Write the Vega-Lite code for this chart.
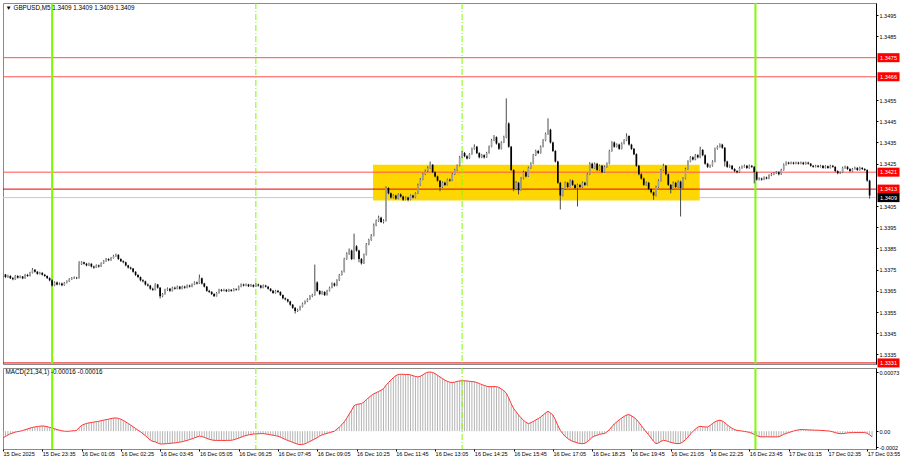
{
"$schema":"https://vega.github.io/schema/vega-lite/v6.json",
"background":"white",
"padding":{"left":2,"top":1,"right":0,"bottom":0},
"spacing":4,
"bounds":"flush",
"config":{"view":{"stroke":"#8a8a8a","strokeWidth":1},"font":"Liberation Sans","axis":{"labelFont":"Liberation Sans","labelFontSize":5.5,"labelColor":"#000000","tickColor":"#000000","domainColor":"#000000","grid":false,"labelOverlap":false}},
"datasets":{
"k":[
{"i":0,"o":1.3372,"h":1.33732,"l":1.33716,"c":1.33727,"m":-0.000084},
{"i":1,"o":1.33727,"h":1.3373,"l":1.3371,"c":1.33715,"m":-0.000065},
{"i":2,"o":1.33715,"h":1.33726,"l":1.33711,"c":1.3372,"m":-0.000048},
{"i":3,"o":1.3372,"h":1.33724,"l":1.33706,"c":1.3371,"m":-0.000032},
{"i":4,"o":1.3371,"h":1.33715,"l":1.337,"c":1.33705,"m":-0.000022},
{"i":5,"o":1.33705,"h":1.33725,"l":1.33702,"c":1.3372,"m":-0.000012},
{"i":6,"o":1.3372,"h":1.33724,"l":1.33708,"c":1.33712,"m":-0.000005},
{"i":7,"o":1.33712,"h":1.33723,"l":1.33709,"c":1.33718,"m":0},
{"i":8,"o":1.33718,"h":1.3372,"l":1.33705,"c":1.33709,"m":0.000008},
{"i":9,"o":1.33709,"h":1.3373,"l":1.33707,"c":1.33725,"m":0.000018},
{"i":10,"o":1.33725,"h":1.3373,"l":1.33716,"c":1.3372,"m":0.000028},
{"i":11,"o":1.3372,"h":1.3374,"l":1.33718,"c":1.33735,"m":0.000038},
{"i":12,"o":1.33735,"h":1.33758,"l":1.33732,"c":1.3375,"m":0.000046},
{"i":13,"o":1.3375,"h":1.33753,"l":1.33736,"c":1.3374,"m":0.000052},
{"i":14,"o":1.3374,"h":1.33744,"l":1.33726,"c":1.3373,"m":0.000058},
{"i":15,"o":1.3373,"h":1.3374,"l":1.33727,"c":1.33735,"m":0.000062},
{"i":16,"o":1.33735,"h":1.33738,"l":1.33722,"c":1.33726,"m":0.000064},
{"i":17,"o":1.33726,"h":1.3373,"l":1.33716,"c":1.3372,"m":0.000062},
{"i":18,"o":1.3372,"h":1.33723,"l":1.33706,"c":1.3371,"m":0.000056},
{"i":19,"o":1.3371,"h":1.33714,"l":1.33695,"c":1.337,"m":0.000046},
{"i":20,"o":1.337,"h":1.33705,"l":1.3367,"c":1.33675,"m":0.00004},
{"i":21,"o":1.33675,"h":1.33695,"l":1.33672,"c":1.3369,"m":0.00003},
{"i":22,"o":1.3369,"h":1.33694,"l":1.33676,"c":1.3368,"m":0.00002},
{"i":23,"o":1.3368,"h":1.3369,"l":1.33677,"c":1.33685,"m":0.000012},
{"i":24,"o":1.33685,"h":1.33689,"l":1.33672,"c":1.33676,"m":0.000004},
{"i":25,"o":1.33676,"h":1.33692,"l":1.33674,"c":1.33688,"m":0},
{"i":26,"o":1.33688,"h":1.337,"l":1.33685,"c":1.33695,"m":-0.000002},
{"i":27,"o":1.33695,"h":1.3371,"l":1.33692,"c":1.33705,"m":0},
{"i":28,"o":1.33705,"h":1.33715,"l":1.33702,"c":1.3371,"m":0.000003},
{"i":29,"o":1.3371,"h":1.33718,"l":1.33706,"c":1.33712,"m":0.000006},
{"i":30,"o":1.33712,"h":1.33716,"l":1.33705,"c":1.3371,"m":0.00001},
{"i":31,"o":1.3371,"h":1.3379,"l":1.33708,"c":1.33775,"m":0.000045},
{"i":32,"o":1.33775,"h":1.3379,"l":1.33772,"c":1.33785,"m":0.00007},
{"i":33,"o":1.33785,"h":1.33788,"l":1.33774,"c":1.33778,"m":0.000085},
{"i":34,"o":1.33778,"h":1.33782,"l":1.33766,"c":1.3377,"m":0.000095},
{"i":35,"o":1.3377,"h":1.33783,"l":1.33767,"c":1.33778,"m":0.000102},
{"i":36,"o":1.33778,"h":1.3378,"l":1.3376,"c":1.33765,"m":0.000108},
{"i":37,"o":1.33765,"h":1.33769,"l":1.33754,"c":1.3376,"m":0.000112},
{"i":38,"o":1.3376,"h":1.33775,"l":1.33758,"c":1.3377,"m":0.000118},
{"i":39,"o":1.3377,"h":1.33774,"l":1.3376,"c":1.33765,"m":0.000122},
{"i":40,"o":1.33765,"h":1.33785,"l":1.33763,"c":1.3378,"m":0.00013},
{"i":41,"o":1.3378,"h":1.33795,"l":1.33777,"c":1.3379,"m":0.000136},
{"i":42,"o":1.3379,"h":1.33805,"l":1.33787,"c":1.338,"m":0.000143},
{"i":43,"o":1.338,"h":1.33804,"l":1.3379,"c":1.33795,"m":0.000148},
{"i":44,"o":1.33795,"h":1.3381,"l":1.33792,"c":1.33805,"m":0.000156},
{"i":45,"o":1.33805,"h":1.3382,"l":1.33802,"c":1.33815,"m":0.000162},
{"i":46,"o":1.33815,"h":1.33826,"l":1.3381,"c":1.3382,"m":0.000163},
{"i":47,"o":1.3382,"h":1.33823,"l":1.33796,"c":1.338,"m":0.000158},
{"i":48,"o":1.338,"h":1.33804,"l":1.33786,"c":1.3379,"m":0.000148},
{"i":49,"o":1.3379,"h":1.33794,"l":1.3378,"c":1.33785,"m":0.000133},
{"i":50,"o":1.33785,"h":1.33788,"l":1.33766,"c":1.3377,"m":0.000115},
{"i":51,"o":1.3377,"h":1.33773,"l":1.33755,"c":1.3376,"m":0.000095},
{"i":52,"o":1.3376,"h":1.33764,"l":1.3375,"c":1.33755,"m":0.000075},
{"i":53,"o":1.33755,"h":1.33758,"l":1.33736,"c":1.3374,"m":0.000054},
{"i":54,"o":1.3374,"h":1.33743,"l":1.3372,"c":1.33725,"m":0.000034},
{"i":55,"o":1.33725,"h":1.33729,"l":1.3371,"c":1.33715,"m":0.000012},
{"i":56,"o":1.33715,"h":1.33718,"l":1.33695,"c":1.337,"m":-0.000008},
{"i":57,"o":1.337,"h":1.33705,"l":1.3369,"c":1.33695,"m":-0.000032},
{"i":58,"o":1.33695,"h":1.33698,"l":1.33675,"c":1.3368,"m":-0.000056},
{"i":59,"o":1.3368,"h":1.33685,"l":1.3367,"c":1.33675,"m":-0.000082},
{"i":60,"o":1.33675,"h":1.33678,"l":1.33655,"c":1.3366,"m":-0.00011},
{"i":61,"o":1.3366,"h":1.33665,"l":1.3365,"c":1.33655,"m":-0.000126},
{"i":62,"o":1.33655,"h":1.33686,"l":1.33652,"c":1.3368,"m":-0.000132},
{"i":63,"o":1.3368,"h":1.33683,"l":1.3366,"c":1.33665,"m":-0.000145},
{"i":64,"o":1.33665,"h":1.33668,"l":1.33614,"c":1.33625,"m":-0.000158},
{"i":65,"o":1.33625,"h":1.3364,"l":1.3362,"c":1.33635,"m":-0.000158},
{"i":66,"o":1.33635,"h":1.3366,"l":1.33632,"c":1.33655,"m":-0.000156},
{"i":67,"o":1.33655,"h":1.33666,"l":1.3365,"c":1.3366,"m":-0.000153},
{"i":68,"o":1.3366,"h":1.33664,"l":1.33645,"c":1.3365,"m":-0.00015},
{"i":69,"o":1.3365,"h":1.3367,"l":1.33647,"c":1.33665,"m":-0.000147},
{"i":70,"o":1.33665,"h":1.3367,"l":1.33656,"c":1.3366,"m":-0.000145},
{"i":71,"o":1.3366,"h":1.33675,"l":1.33657,"c":1.3367,"m":-0.00014},
{"i":72,"o":1.3367,"h":1.33673,"l":1.33656,"c":1.3366,"m":-0.000135},
{"i":73,"o":1.3366,"h":1.33675,"l":1.33657,"c":1.3367,"m":-0.00013},
{"i":74,"o":1.3367,"h":1.33674,"l":1.3366,"c":1.33665,"m":-0.000122},
{"i":75,"o":1.33665,"h":1.3368,"l":1.33662,"c":1.33675,"m":-0.000114},
{"i":76,"o":1.33675,"h":1.33679,"l":1.33666,"c":1.3367,"m":-0.000104},
{"i":77,"o":1.3367,"h":1.33685,"l":1.33667,"c":1.3368,"m":-0.000094},
{"i":78,"o":1.3368,"h":1.33695,"l":1.33677,"c":1.3369,"m":-0.000082},
{"i":79,"o":1.3369,"h":1.33694,"l":1.3368,"c":1.33685,"m":-0.000072},
{"i":80,"o":1.33685,"h":1.33727,"l":1.33682,"c":1.3371,"m":-0.00006},
{"i":81,"o":1.3371,"h":1.33713,"l":1.3368,"c":1.33685,"m":-0.000066},
{"i":82,"o":1.33685,"h":1.33688,"l":1.33666,"c":1.3367,"m":-0.000076},
{"i":83,"o":1.3367,"h":1.33673,"l":1.33646,"c":1.3365,"m":-0.000088},
{"i":84,"o":1.3365,"h":1.33655,"l":1.3364,"c":1.33645,"m":-0.0001},
{"i":85,"o":1.33645,"h":1.33649,"l":1.3363,"c":1.33635,"m":-0.000108},
{"i":86,"o":1.33635,"h":1.33639,"l":1.33622,"c":1.33625,"m":-0.000113},
{"i":87,"o":1.33625,"h":1.33645,"l":1.33623,"c":1.3364,"m":-0.000114},
{"i":88,"o":1.3364,"h":1.3366,"l":1.33637,"c":1.33655,"m":-0.000114},
{"i":89,"o":1.33655,"h":1.33659,"l":1.33646,"c":1.3365,"m":-0.000114},
{"i":90,"o":1.3365,"h":1.3366,"l":1.33647,"c":1.33655,"m":-0.000115},
{"i":91,"o":1.33655,"h":1.33658,"l":1.33644,"c":1.33648,"m":-0.000114},
{"i":92,"o":1.33648,"h":1.3366,"l":1.33645,"c":1.33655,"m":-0.000113},
{"i":93,"o":1.33655,"h":1.33658,"l":1.33646,"c":1.3365,"m":-0.000113},
{"i":94,"o":1.3365,"h":1.33663,"l":1.33647,"c":1.33658,"m":-0.000106},
{"i":95,"o":1.33658,"h":1.33662,"l":1.33651,"c":1.33655,"m":-0.000096},
{"i":96,"o":1.33655,"h":1.33675,"l":1.33652,"c":1.3367,"m":-0.000086},
{"i":97,"o":1.3367,"h":1.33685,"l":1.33667,"c":1.3368,"m":-0.000074},
{"i":98,"o":1.3368,"h":1.33684,"l":1.33671,"c":1.33675,"m":-0.000062},
{"i":99,"o":1.33675,"h":1.33685,"l":1.33672,"c":1.3368,"m":-0.000054},
{"i":100,"o":1.3368,"h":1.33683,"l":1.33668,"c":1.33672,"m":-0.000046},
{"i":101,"o":1.33672,"h":1.33683,"l":1.33669,"c":1.33678,"m":-0.00004},
{"i":102,"o":1.33678,"h":1.33681,"l":1.33666,"c":1.3367,"m":-0.000036},
{"i":103,"o":1.3367,"h":1.33686,"l":1.33668,"c":1.3368,"m":-0.000034},
{"i":104,"o":1.3368,"h":1.33684,"l":1.3367,"c":1.33675,"m":-0.000032},
{"i":105,"o":1.33675,"h":1.33678,"l":1.33661,"c":1.33665,"m":-0.00003},
{"i":106,"o":1.33665,"h":1.3368,"l":1.33662,"c":1.33675,"m":-0.00003},
{"i":107,"o":1.33675,"h":1.33679,"l":1.33666,"c":1.3367,"m":-0.000034},
{"i":108,"o":1.3367,"h":1.33673,"l":1.33656,"c":1.3366,"m":-0.000039},
{"i":109,"o":1.3366,"h":1.33663,"l":1.33646,"c":1.3365,"m":-0.000045},
{"i":110,"o":1.3365,"h":1.33654,"l":1.33636,"c":1.3364,"m":-0.00005},
{"i":111,"o":1.3364,"h":1.33655,"l":1.33637,"c":1.3365,"m":-0.000056},
{"i":112,"o":1.3365,"h":1.33654,"l":1.3364,"c":1.33645,"m":-0.000062},
{"i":113,"o":1.33645,"h":1.33648,"l":1.33626,"c":1.3363,"m":-0.000074},
{"i":114,"o":1.3363,"h":1.33633,"l":1.3361,"c":1.33615,"m":-0.000088},
{"i":115,"o":1.33615,"h":1.33619,"l":1.33605,"c":1.3361,"m":-0.000102},
{"i":116,"o":1.3361,"h":1.33613,"l":1.33595,"c":1.336,"m":-0.000115},
{"i":117,"o":1.336,"h":1.33603,"l":1.3358,"c":1.33585,"m":-0.000126},
{"i":118,"o":1.33585,"h":1.33588,"l":1.33565,"c":1.3357,"m":-0.000138},
{"i":119,"o":1.3357,"h":1.33573,"l":1.33543,"c":1.33555,"m":-0.00015},
{"i":120,"o":1.33555,"h":1.33566,"l":1.3355,"c":1.3356,"m":-0.00016},
{"i":121,"o":1.3356,"h":1.3358,"l":1.33557,"c":1.33575,"m":-0.000166},
{"i":122,"o":1.33575,"h":1.33595,"l":1.33572,"c":1.3359,"m":-0.000165},
{"i":123,"o":1.3359,"h":1.33605,"l":1.33586,"c":1.336,"m":-0.000156},
{"i":124,"o":1.336,"h":1.33615,"l":1.33597,"c":1.3361,"m":-0.000142},
{"i":125,"o":1.3361,"h":1.3363,"l":1.33607,"c":1.33625,"m":-0.000126},
{"i":126,"o":1.33625,"h":1.33636,"l":1.3362,"c":1.3363,"m":-0.000112},
{"i":127,"o":1.3363,"h":1.33774,"l":1.33627,"c":1.3369,"m":-0.000096},
{"i":128,"o":1.3369,"h":1.33695,"l":1.33646,"c":1.3365,"m":-0.00008},
{"i":129,"o":1.3365,"h":1.33654,"l":1.3363,"c":1.33635,"m":-0.00006},
{"i":130,"o":1.33635,"h":1.3365,"l":1.33632,"c":1.33645,"m":-0.000046},
{"i":131,"o":1.33645,"h":1.33648,"l":1.33626,"c":1.3363,"m":-0.000036},
{"i":132,"o":1.3363,"h":1.33655,"l":1.33628,"c":1.3365,"m":-0.000027},
{"i":133,"o":1.3365,"h":1.3367,"l":1.33647,"c":1.33665,"m":-0.000018},
{"i":134,"o":1.33665,"h":1.3369,"l":1.33662,"c":1.33685,"m":-0.000009},
{"i":135,"o":1.33685,"h":1.33689,"l":1.3367,"c":1.33675,"m":0},
{"i":136,"o":1.33675,"h":1.33705,"l":1.33672,"c":1.337,"m":0.000025},
{"i":137,"o":1.337,"h":1.3373,"l":1.33697,"c":1.33725,"m":0.00005},
{"i":138,"o":1.33725,"h":1.33746,"l":1.33722,"c":1.3374,"m":0.00008},
{"i":139,"o":1.3374,"h":1.33806,"l":1.33737,"c":1.338,"m":0.000115},
{"i":140,"o":1.338,"h":1.33832,"l":1.33796,"c":1.33825,"m":0.00016},
{"i":141,"o":1.33825,"h":1.3385,"l":1.3382,"c":1.3384,"m":0.00021},
{"i":142,"o":1.3384,"h":1.33845,"l":1.33795,"c":1.338,"m":0.00026},
{"i":143,"o":1.338,"h":1.3392,"l":1.33798,"c":1.3386,"m":0.000315},
{"i":144,"o":1.3386,"h":1.33866,"l":1.33835,"c":1.3384,"m":0.00033},
{"i":145,"o":1.3384,"h":1.33844,"l":1.33785,"c":1.338,"m":0.000335},
{"i":146,"o":1.338,"h":1.33805,"l":1.33774,"c":1.3378,"m":0.00034},
{"i":147,"o":1.3378,"h":1.33826,"l":1.33777,"c":1.3382,"m":0.00036},
{"i":148,"o":1.3382,"h":1.33876,"l":1.33817,"c":1.3387,"m":0.00039},
{"i":149,"o":1.3387,"h":1.33896,"l":1.33865,"c":1.3389,"m":0.000415},
{"i":150,"o":1.3389,"h":1.33918,"l":1.33886,"c":1.3391,"m":0.00044},
{"i":151,"o":1.3391,"h":1.33968,"l":1.33907,"c":1.3396,"m":0.00046},
{"i":152,"o":1.3396,"h":1.33987,"l":1.33955,"c":1.3398,"m":0.000475},
{"i":153,"o":1.3398,"h":1.34005,"l":1.33975,"c":1.33995,"m":0.00049},
{"i":154,"o":1.33995,"h":1.34,"l":1.3397,"c":1.33975,"m":0.000505},
{"i":155,"o":1.33975,"h":1.33988,"l":1.33968,"c":1.3398,"m":0.000525},
{"i":156,"o":1.3398,"h":1.34143,"l":1.33977,"c":1.34135,"m":0.000565},
{"i":157,"o":1.34135,"h":1.34139,"l":1.34105,"c":1.3411,"m":0.0006},
{"i":158,"o":1.3411,"h":1.34114,"l":1.34085,"c":1.3409,"m":0.00063},
{"i":159,"o":1.3409,"h":1.34106,"l":1.34086,"c":1.341,"m":0.00066},
{"i":160,"o":1.341,"h":1.34104,"l":1.3408,"c":1.34085,"m":0.000685},
{"i":161,"o":1.34085,"h":1.3411,"l":1.34082,"c":1.34105,"m":0.0007},
{"i":162,"o":1.34105,"h":1.3411,"l":1.3409,"c":1.34095,"m":0.000703},
{"i":163,"o":1.34095,"h":1.34099,"l":1.34074,"c":1.3408,"m":0.000702},
{"i":164,"o":1.3408,"h":1.34096,"l":1.34077,"c":1.3409,"m":0.0007},
{"i":165,"o":1.3409,"h":1.34094,"l":1.34072,"c":1.3408,"m":0.0007},
{"i":166,"o":1.3408,"h":1.34105,"l":1.34077,"c":1.341,"m":0.000695},
{"i":167,"o":1.341,"h":1.34104,"l":1.34086,"c":1.3409,"m":0.000685},
{"i":168,"o":1.3409,"h":1.34115,"l":1.34087,"c":1.3411,"m":0.000675},
{"i":169,"o":1.3411,"h":1.34156,"l":1.34107,"c":1.3415,"m":0.00067},
{"i":170,"o":1.3415,"h":1.34182,"l":1.34146,"c":1.34175,"m":0.000678},
{"i":171,"o":1.34175,"h":1.34206,"l":1.34172,"c":1.342,"m":0.000695},
{"i":172,"o":1.342,"h":1.34222,"l":1.34196,"c":1.34215,"m":0.000715},
{"i":173,"o":1.34215,"h":1.34238,"l":1.3421,"c":1.3423,"m":0.000728},
{"i":174,"o":1.3423,"h":1.3426,"l":1.34226,"c":1.34245,"m":0.00073},
{"i":175,"o":1.34245,"h":1.34248,"l":1.34205,"c":1.3421,"m":0.000725},
{"i":176,"o":1.3421,"h":1.34214,"l":1.34185,"c":1.3419,"m":0.00071},
{"i":177,"o":1.3419,"h":1.34194,"l":1.34165,"c":1.3417,"m":0.00069},
{"i":178,"o":1.3417,"h":1.34173,"l":1.3412,"c":1.3414,"m":0.00067},
{"i":179,"o":1.3414,"h":1.34166,"l":1.34136,"c":1.3416,"m":0.00065},
{"i":180,"o":1.3416,"h":1.34165,"l":1.34145,"c":1.3415,"m":0.00063},
{"i":181,"o":1.3415,"h":1.3418,"l":1.34147,"c":1.34175,"m":0.000615},
{"i":182,"o":1.34175,"h":1.3418,"l":1.34165,"c":1.3417,"m":0.000605},
{"i":183,"o":1.3417,"h":1.34206,"l":1.34167,"c":1.342,"m":0.0006},
{"i":184,"o":1.342,"h":1.34226,"l":1.34196,"c":1.3422,"m":0.000605},
{"i":185,"o":1.3422,"h":1.34246,"l":1.34216,"c":1.3424,"m":0.000615},
{"i":186,"o":1.3424,"h":1.34287,"l":1.34237,"c":1.3428,"m":0.00062},
{"i":187,"o":1.3428,"h":1.3431,"l":1.34276,"c":1.343,"m":0.000622},
{"i":188,"o":1.343,"h":1.34305,"l":1.3428,"c":1.34285,"m":0.000622},
{"i":189,"o":1.34285,"h":1.3429,"l":1.3427,"c":1.34275,"m":0.00062},
{"i":190,"o":1.34275,"h":1.343,"l":1.34272,"c":1.34295,"m":0.000616},
{"i":191,"o":1.34295,"h":1.34326,"l":1.34292,"c":1.3432,"m":0.000612},
{"i":192,"o":1.3432,"h":1.34341,"l":1.34316,"c":1.3433,"m":0.00061},
{"i":193,"o":1.3433,"h":1.34334,"l":1.34295,"c":1.343,"m":0.0006},
{"i":194,"o":1.343,"h":1.34304,"l":1.34275,"c":1.3428,"m":0.000588},
{"i":195,"o":1.3428,"h":1.34296,"l":1.34276,"c":1.3429,"m":0.000576},
{"i":196,"o":1.3429,"h":1.34294,"l":1.34274,"c":1.3428,"m":0.000565},
{"i":197,"o":1.3428,"h":1.34306,"l":1.34277,"c":1.343,"m":0.000555},
{"i":198,"o":1.343,"h":1.34336,"l":1.34297,"c":1.3433,"m":0.00055},
{"i":199,"o":1.3433,"h":1.34367,"l":1.34327,"c":1.3436,"m":0.00055},
{"i":200,"o":1.3436,"h":1.34385,"l":1.34356,"c":1.34375,"m":0.00055},
{"i":201,"o":1.34375,"h":1.34379,"l":1.3434,"c":1.34345,"m":0.00055},
{"i":202,"o":1.34345,"h":1.34349,"l":1.34315,"c":1.3432,"m":0.00054},
{"i":203,"o":1.3432,"h":1.34356,"l":1.34317,"c":1.3435,"m":0.00052},
{"i":204,"o":1.3435,"h":1.34382,"l":1.34347,"c":1.34375,"m":0.0005},
{"i":205,"o":1.34375,"h":1.34558,"l":1.3437,"c":1.3444,"m":0.00047},
{"i":206,"o":1.3444,"h":1.34445,"l":1.34325,"c":1.3433,"m":0.00041},
{"i":207,"o":1.3433,"h":1.34334,"l":1.34215,"c":1.3422,"m":0.00034},
{"i":208,"o":1.3422,"h":1.34224,"l":1.3412,"c":1.3413,"m":0.00028},
{"i":209,"o":1.3413,"h":1.34168,"l":1.34125,"c":1.3416,"m":0.00024},
{"i":210,"o":1.3416,"h":1.34164,"l":1.34105,"c":1.34125,"m":0.0002},
{"i":211,"o":1.34125,"h":1.34186,"l":1.34122,"c":1.3418,"m":0.000165},
{"i":212,"o":1.3418,"h":1.34217,"l":1.34176,"c":1.3421,"m":0.000135},
{"i":213,"o":1.3421,"h":1.34215,"l":1.34185,"c":1.3419,"m":0.00011},
{"i":214,"o":1.3419,"h":1.34236,"l":1.34187,"c":1.3423,"m":0.000093},
{"i":215,"o":1.3423,"h":1.34257,"l":1.34226,"c":1.3425,"m":0.000105},
{"i":216,"o":1.3425,"h":1.34296,"l":1.34247,"c":1.3429,"m":0.00012},
{"i":217,"o":1.3429,"h":1.34316,"l":1.34286,"c":1.3431,"m":0.000138},
{"i":218,"o":1.3431,"h":1.34315,"l":1.34295,"c":1.343,"m":0.000155},
{"i":219,"o":1.343,"h":1.34336,"l":1.34297,"c":1.3433,"m":0.000175},
{"i":220,"o":1.3433,"h":1.34366,"l":1.34327,"c":1.3436,"m":0.0002},
{"i":221,"o":1.3436,"h":1.34397,"l":1.34356,"c":1.3439,"m":0.000225},
{"i":222,"o":1.3439,"h":1.34464,"l":1.34386,"c":1.3441,"m":0.000246},
{"i":223,"o":1.3441,"h":1.34415,"l":1.34345,"c":1.3435,"m":0.000225},
{"i":224,"o":1.3435,"h":1.34354,"l":1.34305,"c":1.3431,"m":0.0002},
{"i":225,"o":1.3431,"h":1.34314,"l":1.34255,"c":1.3426,"m":0.00014},
{"i":226,"o":1.3426,"h":1.34264,"l":1.34155,"c":1.3416,"m":0.00007},
{"i":227,"o":1.3416,"h":1.34164,"l":1.34034,"c":1.341,"m":0.00001},
{"i":228,"o":1.341,"h":1.34136,"l":1.34096,"c":1.3413,"m":-0.00003},
{"i":229,"o":1.3413,"h":1.34166,"l":1.34126,"c":1.3416,"m":-0.000065},
{"i":230,"o":1.3416,"h":1.34164,"l":1.34135,"c":1.3414,"m":-0.00009},
{"i":231,"o":1.3414,"h":1.34176,"l":1.34137,"c":1.3417,"m":-0.00011},
{"i":232,"o":1.3417,"h":1.34174,"l":1.34145,"c":1.3415,"m":-0.000125},
{"i":233,"o":1.3415,"h":1.34154,"l":1.3413,"c":1.34135,"m":-0.000135},
{"i":234,"o":1.34135,"h":1.34156,"l":1.34048,"c":1.3415,"m":-0.000145},
{"i":235,"o":1.3415,"h":1.34155,"l":1.34135,"c":1.3414,"m":-0.000152},
{"i":236,"o":1.3414,"h":1.34166,"l":1.34136,"c":1.3416,"m":-0.000154},
{"i":237,"o":1.3416,"h":1.34164,"l":1.34145,"c":1.3415,"m":-0.00015},
{"i":238,"o":1.3415,"h":1.34206,"l":1.34147,"c":1.342,"m":-0.00013},
{"i":239,"o":1.342,"h":1.34257,"l":1.34196,"c":1.3425,"m":-0.000105},
{"i":240,"o":1.3425,"h":1.34255,"l":1.34225,"c":1.3423,"m":-0.000075},
{"i":241,"o":1.3423,"h":1.34256,"l":1.34226,"c":1.3425,"m":-0.00006},
{"i":242,"o":1.3425,"h":1.34254,"l":1.34215,"c":1.3422,"m":-0.00005},
{"i":243,"o":1.3422,"h":1.34246,"l":1.34216,"c":1.3424,"m":-0.00004},
{"i":244,"o":1.3424,"h":1.34244,"l":1.34205,"c":1.3421,"m":-0.000032},
{"i":245,"o":1.3421,"h":1.34241,"l":1.34206,"c":1.34235,"m":-0.00003},
{"i":246,"o":1.34235,"h":1.34256,"l":1.34231,"c":1.3425,"m":-0.00001},
{"i":247,"o":1.3425,"h":1.34316,"l":1.34247,"c":1.3431,"m":0.00002},
{"i":248,"o":1.3431,"h":1.34356,"l":1.34306,"c":1.3435,"m":0.000055},
{"i":249,"o":1.3435,"h":1.34355,"l":1.34325,"c":1.3433,"m":0.00009},
{"i":250,"o":1.3433,"h":1.34346,"l":1.34326,"c":1.3434,"m":0.000115},
{"i":251,"o":1.3434,"h":1.34344,"l":1.34315,"c":1.3432,"m":0.00014},
{"i":252,"o":1.3432,"h":1.34351,"l":1.34317,"c":1.34345,"m":0.000162},
{"i":253,"o":1.34345,"h":1.34366,"l":1.34341,"c":1.3436,"m":0.000182},
{"i":254,"o":1.3436,"h":1.34393,"l":1.34356,"c":1.3438,"m":0.0002},
{"i":255,"o":1.3438,"h":1.34384,"l":1.34335,"c":1.3434,"m":0.000204},
{"i":256,"o":1.3434,"h":1.34344,"l":1.34315,"c":1.3432,"m":0.00019},
{"i":257,"o":1.3432,"h":1.34324,"l":1.3429,"c":1.34295,"m":0.00017},
{"i":258,"o":1.34295,"h":1.34299,"l":1.34235,"c":1.3424,"m":0.000145},
{"i":259,"o":1.3424,"h":1.34244,"l":1.34195,"c":1.342,"m":0.00011},
{"i":260,"o":1.342,"h":1.34205,"l":1.34175,"c":1.3418,"m":0.00007},
{"i":261,"o":1.3418,"h":1.34184,"l":1.34145,"c":1.3415,"m":0.00003},
{"i":262,"o":1.3415,"h":1.34166,"l":1.34146,"c":1.3416,"m":-0.00001},
{"i":263,"o":1.3416,"h":1.34164,"l":1.34125,"c":1.3413,"m":-0.000045},
{"i":264,"o":1.3413,"h":1.34134,"l":1.3411,"c":1.34115,"m":-0.000085},
{"i":265,"o":1.34115,"h":1.34119,"l":1.3408,"c":1.341,"m":-0.000125},
{"i":266,"o":1.341,"h":1.34146,"l":1.34096,"c":1.3414,"m":-0.000154},
{"i":267,"o":1.3414,"h":1.34176,"l":1.34136,"c":1.3417,"m":-0.000145},
{"i":268,"o":1.3417,"h":1.34226,"l":1.34166,"c":1.3422,"m":-0.000125},
{"i":269,"o":1.3422,"h":1.3425,"l":1.34216,"c":1.3424,"m":-0.000113},
{"i":270,"o":1.3424,"h":1.34244,"l":1.34195,"c":1.342,"m":-0.000118},
{"i":271,"o":1.342,"h":1.34204,"l":1.34145,"c":1.3415,"m":-0.000128},
{"i":272,"o":1.3415,"h":1.34154,"l":1.3411,"c":1.3413,"m":-0.000138},
{"i":273,"o":1.3413,"h":1.34166,"l":1.34126,"c":1.3416,"m":-0.000146},
{"i":274,"o":1.3416,"h":1.34164,"l":1.34135,"c":1.3414,"m":-0.000152},
{"i":275,"o":1.3414,"h":1.34171,"l":1.34136,"c":1.34165,"m":-0.000154},
{"i":276,"o":1.34165,"h":1.3417,"l":1.34001,"c":1.34135,"m":-0.00015},
{"i":277,"o":1.34135,"h":1.34186,"l":1.34132,"c":1.3418,"m":-0.00013},
{"i":278,"o":1.3418,"h":1.34231,"l":1.34176,"c":1.34225,"m":-0.000105},
{"i":279,"o":1.34225,"h":1.34266,"l":1.34221,"c":1.3426,"m":-0.000075},
{"i":280,"o":1.3426,"h":1.34286,"l":1.34256,"c":1.3428,"m":-0.000035},
{"i":281,"o":1.3428,"h":1.34285,"l":1.34265,"c":1.3427,"m":-0.000005},
{"i":282,"o":1.3427,"h":1.34296,"l":1.34266,"c":1.3429,"m":0.000025},
{"i":283,"o":1.3429,"h":1.34295,"l":1.34275,"c":1.3428,"m":0.00005},
{"i":284,"o":1.3428,"h":1.3433,"l":1.34276,"c":1.34315,"m":0.00006},
{"i":285,"o":1.34315,"h":1.34319,"l":1.34285,"c":1.3429,"m":0.000056},
{"i":286,"o":1.3429,"h":1.34294,"l":1.34245,"c":1.3425,"m":0.000052},
{"i":287,"o":1.3425,"h":1.34254,"l":1.3423,"c":1.34235,"m":0.000052},
{"i":288,"o":1.34235,"h":1.34246,"l":1.3423,"c":1.3424,"m":0.00007},
{"i":289,"o":1.3424,"h":1.34266,"l":1.34236,"c":1.3426,"m":0.000095},
{"i":290,"o":1.3426,"h":1.34326,"l":1.34256,"c":1.3432,"m":0.000115},
{"i":291,"o":1.3432,"h":1.34336,"l":1.34316,"c":1.3433,"m":0.00013},
{"i":292,"o":1.3433,"h":1.34346,"l":1.34326,"c":1.3434,"m":0.000135},
{"i":293,"o":1.3434,"h":1.34344,"l":1.3432,"c":1.34325,"m":0.000125},
{"i":294,"o":1.34325,"h":1.34329,"l":1.34237,"c":1.3426,"m":0.000105},
{"i":295,"o":1.3426,"h":1.34264,"l":1.3423,"c":1.34235,"m":0.000078},
{"i":296,"o":1.34235,"h":1.34246,"l":1.3423,"c":1.3424,"m":0.000055},
{"i":297,"o":1.3424,"h":1.34244,"l":1.3422,"c":1.34225,"m":0.000035},
{"i":298,"o":1.34225,"h":1.34229,"l":1.3421,"c":1.34215,"m":0.00002},
{"i":299,"o":1.34215,"h":1.34219,"l":1.34204,"c":1.3421,"m":0.00001},
{"i":300,"o":1.3421,"h":1.34236,"l":1.34206,"c":1.3423,"m":0.000006},
{"i":301,"o":1.3423,"h":1.34241,"l":1.34226,"c":1.34235,"m":0.000002},
{"i":302,"o":1.34235,"h":1.34246,"l":1.34231,"c":1.3424,"m":-0.000003},
{"i":303,"o":1.3424,"h":1.34244,"l":1.34225,"c":1.3423,"m":-0.000008},
{"i":304,"o":1.3423,"h":1.34246,"l":1.34226,"c":1.3424,"m":-0.000015},
{"i":305,"o":1.3424,"h":1.34244,"l":1.3423,"c":1.34235,"m":-0.000025},
{"i":306,"o":1.34235,"h":1.34239,"l":1.34157,"c":1.3421,"m":-0.00004},
{"i":307,"o":1.3421,"h":1.34214,"l":1.3417,"c":1.34175,"m":-0.000055},
{"i":308,"o":1.34175,"h":1.34186,"l":1.34171,"c":1.3418,"m":-0.000065},
{"i":309,"o":1.3418,"h":1.34184,"l":1.3417,"c":1.34175,"m":-0.00007},
{"i":310,"o":1.34175,"h":1.3419,"l":1.34172,"c":1.34185,"m":-0.00007},
{"i":311,"o":1.34185,"h":1.34189,"l":1.34176,"c":1.3418,"m":-0.00007},
{"i":312,"o":1.3418,"h":1.342,"l":1.34177,"c":1.34195,"m":-0.00007},
{"i":313,"o":1.34195,"h":1.34206,"l":1.34191,"c":1.342,"m":-0.00007},
{"i":314,"o":1.342,"h":1.3421,"l":1.34196,"c":1.34205,"m":-0.00007},
{"i":315,"o":1.34205,"h":1.34215,"l":1.34201,"c":1.3421,"m":-0.00007},
{"i":316,"o":1.3421,"h":1.34214,"l":1.34195,"c":1.342,"m":-0.000068},
{"i":317,"o":1.342,"h":1.34226,"l":1.34197,"c":1.3422,"m":-0.000055},
{"i":318,"o":1.3422,"h":1.34251,"l":1.34217,"c":1.34245,"m":-0.00004},
{"i":319,"o":1.34245,"h":1.34261,"l":1.34241,"c":1.34255,"m":-0.000028},
{"i":320,"o":1.34255,"h":1.34259,"l":1.34246,"c":1.3425,"m":-0.000018},
{"i":321,"o":1.3425,"h":1.3426,"l":1.34247,"c":1.34255,"m":-0.000008},
{"i":322,"o":1.34255,"h":1.34259,"l":1.34246,"c":1.3425,"m":0.000002},
{"i":323,"o":1.3425,"h":1.3426,"l":1.34247,"c":1.34255,"m":0.00001},
{"i":324,"o":1.34255,"h":1.34259,"l":1.34246,"c":1.3425,"m":0.000016},
{"i":325,"o":1.3425,"h":1.3426,"l":1.34247,"c":1.34255,"m":0.00002},
{"i":326,"o":1.34255,"h":1.34259,"l":1.34244,"c":1.34248,"m":0.00002},
{"i":327,"o":1.34248,"h":1.3426,"l":1.34245,"c":1.34255,"m":0.000018},
{"i":328,"o":1.34255,"h":1.34259,"l":1.34246,"c":1.3425,"m":0.000016},
{"i":329,"o":1.3425,"h":1.34253,"l":1.34236,"c":1.3424,"m":0.000015},
{"i":330,"o":1.3424,"h":1.34244,"l":1.34231,"c":1.34235,"m":0.000014},
{"i":331,"o":1.34235,"h":1.34245,"l":1.34232,"c":1.3424,"m":0.000012},
{"i":332,"o":1.3424,"h":1.34244,"l":1.34231,"c":1.34235,"m":0.000012},
{"i":333,"o":1.34235,"h":1.34245,"l":1.34232,"c":1.3424,"m":0.00001},
{"i":334,"o":1.3424,"h":1.34243,"l":1.34226,"c":1.3423,"m":0.000008},
{"i":335,"o":1.3423,"h":1.34243,"l":1.34227,"c":1.34238,"m":0.000006},
{"i":336,"o":1.34238,"h":1.34241,"l":1.34226,"c":1.3423,"m":0.000003},
{"i":337,"o":1.3423,"h":1.34245,"l":1.34227,"c":1.3424,"m":0},
{"i":338,"o":1.3424,"h":1.34244,"l":1.34231,"c":1.34235,"m":-0.000008},
{"i":339,"o":1.34235,"h":1.34238,"l":1.3421,"c":1.34215,"m":-0.000018},
{"i":340,"o":1.34215,"h":1.34219,"l":1.342,"c":1.34205,"m":-0.000026},
{"i":341,"o":1.34205,"h":1.34213,"l":1.34201,"c":1.34208,"m":-0.00003},
{"i":342,"o":1.34208,"h":1.34236,"l":1.34205,"c":1.3423,"m":-0.00003},
{"i":343,"o":1.3423,"h":1.34241,"l":1.34226,"c":1.34235,"m":-0.000026},
{"i":344,"o":1.34235,"h":1.34239,"l":1.3422,"c":1.34225,"m":-0.000022},
{"i":345,"o":1.34225,"h":1.34229,"l":1.3421,"c":1.34215,"m":-0.000018},
{"i":346,"o":1.34215,"h":1.3423,"l":1.34212,"c":1.34225,"m":-0.000018},
{"i":347,"o":1.34225,"h":1.34236,"l":1.34222,"c":1.3423,"m":-0.000017},
{"i":348,"o":1.3423,"h":1.34234,"l":1.34216,"c":1.3422,"m":-0.000017},
{"i":349,"o":1.3422,"h":1.34236,"l":1.34217,"c":1.3423,"m":-0.000016},
{"i":350,"o":1.3423,"h":1.34234,"l":1.3422,"c":1.34225,"m":-0.000016},
{"i":351,"o":1.34225,"h":1.34229,"l":1.34215,"c":1.3422,"m":-0.000018},
{"i":352,"o":1.3422,"h":1.34224,"l":1.34165,"c":1.3417,"m":-0.000025},
{"i":353,"o":1.3417,"h":1.34174,"l":1.34085,"c":1.341,"m":-0.000045},
{"i":354,"o":1.3409,"h":1.3409,"l":1.3409,"c":1.3409,"m":-0.00007}
],
"lv":[{"p":1.3475,"k":"line"},{"p":1.3466,"k":"line"},{"p":1.3421,"k":"line"},{"p":1.3413,"k":"line"},{"p":1.3331,"k":"line"},{"p":1.3409,"k":"bid"}],
"vl":[{"i":20,"k":"day"},{"i":103,"k":"session"},{"i":187,"k":"session"},{"i":306.5,"k":"day"}]
},
"vconcat":[
{
"width":873,"height":361,
"title":{"text":"▼ GBPUSD,M5  1.3409 1.3409 1.3409 1.3409","anchor":"start","orient":"top","offset":-9,"dx":3,"fontSize":6.3,"fontWeight":"normal","font":"Liberation Sans","color":"#000000"},
"data":{"name":"k"},
"layer":[
{"data":{"values":[{"a":150.7,"b":283.8,"lo":1.34076,"hi":1.34245}]},
 "mark":{"type":"rect","color":"#FFD700","clip":true},
 "encoding":{"x":{"field":"a","type":"quantitative","scale":{"domain":[0,355.6],"nice":false,"zero":false,"padding":0},"axis":null},
 "x2":{"field":"b"},
 "y":{"field":"lo","type":"quantitative","scale":{"domain":[1.33305,1.35008],"nice":false,"zero":false,"padding":0},
   "axis":{"orient":"right","values":[1.3495,1.3485,1.3455,1.3445,1.3435,1.3425,1.3405,1.3395,1.3385,1.3375,1.3365,1.3355,1.3345,1.3335],"tickCount":100,"format":".4f","tickSize":2,"labelPadding":1,"domain":true,"title":null,"labelOverlap":false,"labelBound":false}},
 "y2":{"field":"hi"}}},
{"data":{"name":"lv"},"transform":[{"filter":"datum.k=='bid'"}],
 "mark":{"type":"rule","color":"#c8c8c8","strokeWidth":1},
 "encoding":{"y":{"field":"p","type":"quantitative","axis":{"title":null}}}},
{"data":{"name":"lv"},"transform":[{"filter":"datum.k=='line'"}],
 "mark":{"type":"rule","strokeWidth":1},
 "encoding":{"y":{"field":"p","type":"quantitative","axis":{"title":null}},
 "color":{"condition":{"test":"datum.p==1.3413 || datum.p==1.3331","value":"#e80000"},"value":"#ff5050"}}},
{"data":{"name":"vl"},"transform":[{"filter":"datum.k=='day'"}],
 "mark":{"type":"rule","color":"#7CFC00","strokeWidth":2},
 "encoding":{"x":{"field":"i","type":"quantitative","axis":null}}},
{"data":{"name":"vl"},"transform":[{"filter":"datum.k=='session'"}],
 "mark":{"type":"rule","color":"#7CFC00","strokeWidth":1,"strokeDash":[6,2,1,2]},
 "encoding":{"x":{"field":"i","type":"quantitative","axis":null}}},
{"mark":{"type":"rule","color":"#4a4a4a","strokeWidth":1,"clip":true},
 "encoding":{"x":{"field":"i","type":"quantitative","axis":null},
 "y":{"field":"l","type":"quantitative","axis":{"title":null}},"y2":{"field":"h"}}},
{"mark":{"type":"bar","size":1.7,"clip":true},
 "encoding":{"x":{"field":"i","type":"quantitative","axis":null},
 "y":{"field":"o","type":"quantitative","axis":{"title":null}},"y2":{"field":"c"},
 "color":{"condition":{"test":"datum.c>=datum.o","value":"#a0a0a0"},"value":"#000000"}}},
{"data":{"name":"lv"},
 "mark":{"type":"point","shape":"M-1,-0.41L1,-0.41L1,0.41L-1,0.41Z","size":484,"filled":true,"opacity":1,"strokeWidth":0},
 "encoding":{"x":{"datum":360.7,"type":"quantitative","axis":null},"y":{"field":"p","type":"quantitative","axis":{"title":null}},
 "color":{"condition":{"test":"datum.k=='bid'","value":"#000000"},"value":"#ff0000"}}},
{"data":{"name":"lv"},
 "mark":{"type":"text","color":"#ffffff","fontSize":5.5,"align":"center","baseline":"middle"},
 "encoding":{"x":{"datum":360.7,"type":"quantitative","axis":null},"y":{"field":"p","type":"quantitative","axis":{"title":null}},
 "text":{"field":"p","format":".4f"}}}
]
},
{
"width":873,"height":81,
"title":{"text":"MACD(21,34,1) -0.00016 -0.00016","anchor":"start","orient":"top","offset":-8,"dx":3,"fontSize":6.3,"fontWeight":"normal","font":"Liberation Sans","color":"#000000"},
"data":{"name":"k"},
"layer":[
{"mark":{"type":"rule","color":"#b4b4b4","strokeWidth":1,"clip":true},
 "encoding":{"x":{"field":"i","type":"quantitative","scale":{"domain":[0,355.6],"nice":false,"zero":false,"padding":0},
   "axis":{"values":[0,16,32,48,64,80,96,112,128,144,160,176,192,208,224,240,256,272,288,304,320,336,352],"tickCount":100,
   "labelExpr":"['15 Dec 2025','15 Dec 23:35','16 Dec 01:05','16 Dec 02:25','16 Dec 03:45','16 Dec 05:05','16 Dec 06:25','16 Dec 07:45','16 Dec 09:05','16 Dec 10:25','16 Dec 11:45','16 Dec 13:05','16 Dec 14:25','16 Dec 15:45','16 Dec 17:05','16 Dec 18:25','16 Dec 19:45','16 Dec 21:05','16 Dec 22:25','16 Dec 23:45','17 Dec 01:15','17 Dec 02:35','17 Dec 03:55'][round(datum.value/16)]",
   "labelAlign":"left","labelDx":1,"labelPadding":0,"tickSize":2,"domain":false,"labelOverlap":false,"labelFlush":false,"labelBound":false,"title":null}},
 "y":{"field":"m","type":"quantitative","scale":{"domain":[-0.00022,0.00078],"nice":false,"zero":false,"padding":0},
   "axis":{"orient":"right","values":[0.00073,0,-0.0002],"tickCount":100,"labelExpr":"datum.value==0?'0.00':(datum.value>0?'0.00073':'-0.0002')","tickSize":2,"labelPadding":1,"domain":true,"title":null,"labelOverlap":false,"labelBound":false}},
 "y2":{"datum":0}}},
{"mark":{"type":"line","color":"#ff3535","strokeWidth":1,"clip":true},
 "encoding":{"x":{"field":"i","type":"quantitative","axis":{"title":null}},"y":{"field":"m","type":"quantitative","axis":{"title":null}}}},
{"data":{"name":"vl"},"transform":[{"filter":"datum.k=='day'"}],
 "mark":{"type":"rule","color":"#7CFC00","strokeWidth":2},
 "encoding":{"x":{"field":"i","type":"quantitative","axis":{"title":null}}}},
{"data":{"name":"vl"},"transform":[{"filter":"datum.k=='session'"}],
 "mark":{"type":"rule","color":"#7CFC00","strokeWidth":1,"strokeDash":[6,2,1,2]},
 "encoding":{"x":{"field":"i","type":"quantitative","axis":{"title":null}}}}
]
}
]
}
